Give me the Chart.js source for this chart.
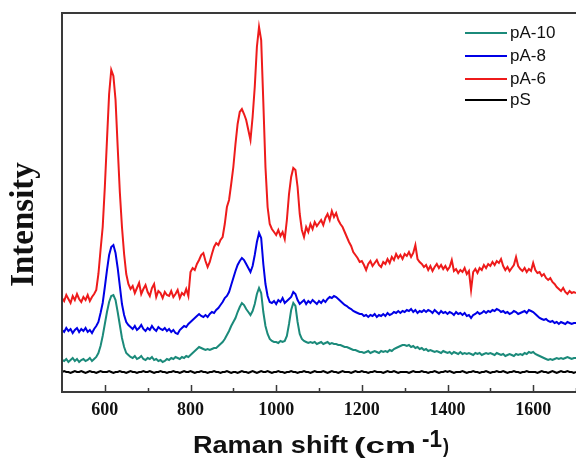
<!DOCTYPE html>
<html><head><meta charset="utf-8">
<script src="https://cdn.jsdelivr.net/npm/chart.js@4.4.1/dist/chart.umd.min.js"></script>
<style>html,body{margin:0;padding:0;background:#fff;overflow:hidden;}</style>
</head><body>
<canvas id="c" width="576" height="461" style="display:block;width:576px;height:461px"></canvas>
<script>
// ---- data ----
const seriesNames = ['pA-10', 'pA-8', 'pA-6', 'pS'];
const seriesColors = ['#1b8a7a', '#0000e6', '#ee1b1b', '#000000'];
const majorTicks = [600, 800, 1000, 1200, 1400, 1600];
const tickLabels = ['600', '800', '1000', '1200', '1400', '1600'];
const minorTicks = [700, 900, 1100, 1300, 1500, 1700];
const shiftStart = 500, shiftStep = 5, shiftCount = 241;
const ramanShift = Array.from({length: shiftCount}, (_, i) => shiftStart + i * shiftStep);

const pA10 = [
 32,31,33,30,32,34,31,33,30,32,
 33,31,32,34,31,33,35,39,46,56,
 68,80,90,96,97,92,80,67,54,45,
 39,37,35,34,36,33,34,36,33,32,
 34,33,35,32,33,31,32,30,31,33,
 32,34,33,35,34,33,35,34,36,35,
 37,39,41,43,45,44,43,42,43,42,
 43,44,44,46,48,50,53,57,61,66,
 70,74,80,85,89,87,83,80,77,81,
 88,98,104,99,80,66,58,53,51,50,
 50,49,51,50,51,56,68,82,89,86,
 70,58,53,51,50,49,50,49,50,48,
 49,50,48,49,50,48,49,48,48,47,
 47,46,45,45,44,43,42,42,41,40,
 40,39,40,41,39,40,41,40,39,41,
 40,41,40,42,41,43,44,45,46,47,
 47,46,47,45,46,44,45,43,44,42,
 43,41,42,41,40,41,40,39,41,40,
 39,40,38,40,39,38,40,38,39,38,
 39,38,37,39,38,39,37,38,39,38,
 39,38,37,39,38,37,38,36,37,38,
 37,36,38,37,38,37,39,38,40,39,
 40,38,37,36,35,34,33,32,33,32,
 33,34,33,34,33,34,35,34,33,34,
 34];

const pA8 = [
 62,60,64,61,63,59,62,64,60,63,
 61,64,60,62,59,63,66,70,79,89,
 105,122,137,145,147,139,124,106,88,77,
 70,67,65,63,66,62,64,67,63,61,
 64,62,66,63,61,65,63,62,64,61,
 63,60,62,59,58,62,64,66,65,68,
 70,72,74,76,78,76,75,77,75,78,
 80,79,82,84,87,90,94,96,100,107,
 114,121,127,131,134,132,128,124,120,126,
 137,150,159,154,128,108,96,90,89,91,
 88,92,90,94,89,91,93,95,100,98,
 92,88,90,92,88,91,89,92,90,88,
 91,89,92,90,93,95,94,96,95,93,
 91,89,87,86,84,83,81,80,79,78,
 78,76,77,75,77,76,78,75,77,76,
 78,76,79,77,78,80,79,81,79,81,
 80,82,81,83,80,82,79,81,80,82,
 80,82,81,79,82,80,78,81,79,80,
 78,80,79,77,80,78,79,77,79,76,
 77,74,77,78,80,78,79,81,79,81,
 80,82,81,83,82,80,81,79,80,78,
 79,81,80,78,79,80,81,79,82,81,
 80,78,76,74,73,72,73,71,70,71,
 69,70,68,70,69,68,70,69,68,69,
 69];

const pA6 = [
 94,91,97,93,89,96,92,98,93,90,
 95,92,97,91,95,98,102,118,142,165,
 205,252,298,322,316,292,245,200,165,138,
 118,108,103,106,99,104,109,98,103,107,
 100,96,104,108,95,101,99,94,100,97,
 96,101,95,98,102,94,99,97,103,96,
 120,124,122,128,132,137,139,131,125,130,
 138,145,149,147,152,155,168,185,192,208,
 225,248,268,280,283,278,272,262,252,275,
 305,345,365,352,290,225,185,168,163,160,
 157,162,156,160,153,172,198,215,224,222,
 205,178,162,155,165,160,168,163,170,166,
 169,172,167,174,178,172,181,175,179,172,
 168,165,160,155,150,146,140,137,134,130,
 131,127,122,128,131,126,129,132,127,125,
 130,128,133,129,135,132,138,134,137,133,
 138,136,140,135,139,147,133,130,128,125,
 127,122,126,121,125,128,124,127,123,126,
 122,125,132,121,123,119,122,120,124,118,
 121,102,120,123,119,124,122,127,124,128,
 126,130,127,131,129,133,126,122,125,121,
 124,127,135,126,123,121,124,120,123,121,
 129,122,119,120,116,118,114,112,114,110,
 108,105,103,101,104,100,98,101,99,100,
 99];

const pS = [
 20,21,20,20,19,20,21,20,20,21,
 20,19,20,21,20,20,19,20,21,20,
 20,20,21,20,19,20,20,21,20,20,
 19,20,21,20,20,19,20,20,21,20,
 20,21,20,19,20,20,21,20,20,19,
 20,20,21,20,20,19,20,21,20,20,
 21,20,19,20,20,21,20,20,19,20,
 20,21,20,20,19,20,20,21,20,19,
 20,20,19,20,21,20,20,19,20,21,
 20,19,20,21,20,20,21,20,19,20,
 20,21,20,20,19,20,20,21,20,20,
 19,20,20,21,20,20,19,20,21,20,
 20,20,21,20,19,20,21,20,20,19,
 20,21,20,20,20,19,20,21,20,20,
 21,20,20,19,20,20,21,20,20,20,
 19,20,21,20,20,21,20,19,20,20,
 20,20,19,20,21,20,20,20,21,20,
 20,19,20,20,21,20,19,20,20,21,
 20,21,20,19,20,20,20,21,20,19,
 20,20,21,20,20,19,20,20,21,20,
 19,20,20,21,20,20,21,20,19,20,
 20,21,20,20,19,20,20,21,20,20,
 20,20,19,20,21,20,20,19,20,21,
 20,19,20,21,20,20,21,20,20,19,
 20];

const seriesValues = [pA10, pA8, pA6, pS];

// ---- chart ----
const datasets = seriesNames.map((name, k) => ({
  label: name,
  data: ramanShift.map((x, i) => ({x: x, y: seriesValues[k][i]})),
  borderColor: seriesColors[k],
  backgroundColor: seriesColors[k],
  borderWidth: 2,
  pointRadius: 0,
  tension: 0,
  fill: false
}));

const decorPlugin = {
  id: 'decor',
  afterDraw(chart) {
    const ctx = chart.ctx;
    const a = chart.chartArea;
    const xs = chart.scales.x;
    ctx.save();
    // frame
    ctx.strokeStyle = '#3a3a3a';
    ctx.lineWidth = 2;
    ctx.beginPath();
    ctx.moveTo(a.right + 2, a.top);
    ctx.lineTo(a.left, a.top);
    ctx.lineTo(a.left, a.bottom);
    ctx.lineTo(a.right + 2, a.bottom);
    ctx.stroke();
    // inward ticks
    ctx.lineWidth = 1.5;
    ctx.beginPath();
    majorTicks.forEach(v => {
      const px = Math.round(xs.getPixelForValue(v)) + 0.5;
      ctx.moveTo(px, a.bottom);
      ctx.lineTo(px, a.bottom - 7);
    });
    minorTicks.forEach(v => {
      const px = Math.round(xs.getPixelForValue(v)) + 0.5;
      ctx.moveTo(px, a.bottom);
      ctx.lineTo(px, a.bottom - 4);
    });
    ctx.stroke();

    // legend
    const legY = [33, 56, 79, 100];
    ctx.font = '17px "Liberation Sans", Arial, sans-serif';
    ctx.textBaseline = 'middle';
    ctx.textAlign = 'left';
    seriesNames.forEach((n, k) => {
      ctx.strokeStyle = seriesColors[k];
      ctx.lineWidth = 2;
      ctx.beginPath();
      ctx.moveTo(465, legY[k]);
      ctx.lineTo(507, legY[k]);
      ctx.stroke();
      ctx.fillStyle = '#111';
      ctx.fillText(n, 510, legY[k] + 0.5);
    });

    // y title
    ctx.save();
    ctx.fillStyle = '#111';
    ctx.font = 'bold 33px "Liberation Serif", "Times New Roman", serif';
    ctx.textAlign = 'center';
    ctx.textBaseline = 'alphabetic';
    ctx.translate(33, (a.top + a.bottom) / 2 + 22);
    ctx.rotate(-Math.PI / 2);
    ctx.fillText('Intensity', 0, 0);
    ctx.restore();

    // x title with superscript
    const parts = [
      {t: 'Raman shift', f: 'bold 24px "Liberation Sans", Arial, sans-serif', x: 193, w: 155, y: 453},
      {t: '(cm', f: 'bold 22px "Liberation Sans", Arial, sans-serif', x: 354, w: 62, y: 453},
      {t: '-1', f: 'bold 24px "Liberation Sans", Arial, sans-serif', x: 422, w: 20, y: 446.5},
      {t: ')', f: 'bold 21px "Liberation Sans", Arial, sans-serif', x: 443, w: 6, y: 453}
    ];
    ctx.fillStyle = '#111';
    ctx.textAlign = 'left';
    ctx.textBaseline = 'alphabetic';
    parts.forEach(p => {
      ctx.font = p.f;
      const nat = ctx.measureText(p.t).width;
      ctx.save();
      ctx.translate(p.x, p.y);
      ctx.scale(p.w / nat, 1);
      ctx.fillText(p.t, 0, 0);
      ctx.restore();
    });
    ctx.restore();
  }
};

new Chart(document.getElementById('c'), {
  type: 'line',
  data: {datasets: datasets},
  options: {
    responsive: false,
    animation: false,
    devicePixelRatio: 1,
    layout: {padding: {left: 62, top: 13, right: 0, bottom: 0}},
    plugins: {legend: {display: false}, tooltip: {enabled: false}},
    scales: {
      x: {
        type: 'linear',
        min: 500,
        max: 1700,
        grid: {display: false},
        border: {display: false},
        afterBuildTicks: (scale) => { scale.ticks = majorTicks.map(v => ({value: v})); },
        afterFit: (scale) => { scale.height = 69; },
        ticks: {
          autoSkip: false,
          maxRotation: 0,
          padding: 0,
          color: '#111',
          font: {family: '"Liberation Serif", "Times New Roman", serif', weight: 'bold', size: 18},
          callback: (v) => tickLabels[majorTicks.indexOf(v)]
        }
      },
      y: {type: 'linear', min: 0, max: 379, display: false}
    }
  },
  plugins: [decorPlugin]
});
</script>
</body></html>
